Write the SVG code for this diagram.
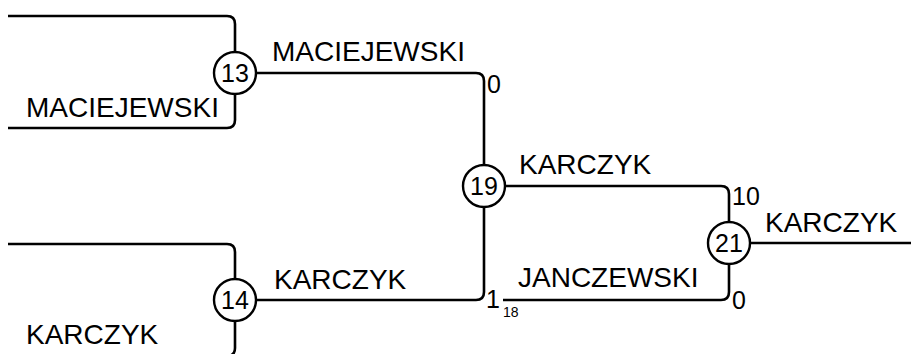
<svg xmlns="http://www.w3.org/2000/svg" width="911" height="354" viewBox="0 0 911 354">
<style>
.ln{fill:none;stroke:#000;stroke-width:2.6}
.nd circle{fill:#fff;stroke:#000;stroke-width:2.4}
.nd text{font-family:"Liberation Sans",Arial,sans-serif;font-size:25px;text-anchor:middle;fill:#000}
.lb{font-family:"Liberation Sans",Arial,sans-serif;font-size:28px;fill:#000}
.sc{font-family:"Liberation Sans",Arial,sans-serif;font-size:25px;fill:#000}
.sm{font-family:"Liberation Sans",Arial,sans-serif;font-size:14px;fill:#000}
</style>
<rect width="911" height="354" fill="#fff"/>
<g id="connectors">
<path class="ln" d="M8,16 H227 Q235,16 235,24 V52"/>
<path class="ln" d="M235,94 V120 Q235,128 227,128 H8"/>
<path class="ln" d="M8,244 H227 Q235,244 235,252 V279"/>
<path class="ln" d="M235,321 V348 Q235,356 227,356 H8"/>
<path class="ln" d="M256,73 H476 Q484,73 484,81 V165"/>
<path class="ln" d="M256,300 H476 Q484,300 484,292 V207"/>
<path class="ln" d="M505,186 H721 Q729,186 729,194 V222"/>
<path class="ln" d="M503,300 H721 Q729,300 729,292 V264"/>
<path class="ln" d="M750,243 H911"/>
</g>
<g id="labels">
<text class="lb" x="26" y="117">MACIEJEWSKI</text>
<text class="lb" x="26" y="344">KARCZYK</text>
<text class="lb" x="272" y="61">MACIEJEWSKI</text>
<text class="lb" x="274" y="289">KARCZYK</text>
<text class="lb" x="519" y="174">KARCZYK</text>
<text class="lb" x="518" y="287">JANCZEWSKI</text>
<text class="lb" x="765" y="232">KARCZYK</text>
<text class="sc" x="487" y="93">0</text>
<text class="sc" x="486" y="308">1</text>
<text class="sm" x="503" y="317">18</text>
<text class="sc" x="732" y="205">10</text>
<text class="sc" x="732" y="309">0</text>
</g>
<g id="n13" class="nd"><circle cx="235" cy="73" r="21"/><text x="235" y="82">13</text></g>
<g id="n14" class="nd"><circle cx="235" cy="300" r="21"/><text x="235" y="309">14</text></g>
<g id="n19" class="nd"><circle cx="484" cy="186" r="21"/><text x="484" y="195">19</text></g>
<g id="n21" class="nd"><circle cx="729" cy="243" r="21"/><text x="729" y="252">21</text></g>
</svg>
